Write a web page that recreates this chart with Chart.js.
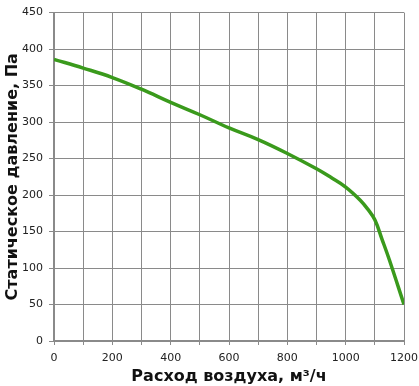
<!DOCTYPE html>
<html>
<head>
<meta charset="utf-8">
<script src="https://cdn.jsdelivr.net/npm/chart.js@4/dist/chart.umd.min.js"></script>
<style>
  body { margin: 0; background: #fff; }
  #wrap { width: 419px; height: 386px; position: relative; }
</style>
</head>
<body>
<div id="wrap"><canvas id="fanChart"></canvas></div>
<script>
// Данные кривой (расход, м3/ч -> давление, Па)
const airflow = [0, 100, 200, 300, 400, 500, 600, 700, 800, 900, 950, 1000, 1050, 1075, 1100, 1125, 1150, 1200];
const pressure = [386, 374, 361, 345, 327, 310, 292, 276, 257, 236, 224, 211, 193, 181, 166, 139, 111, 50];

const xLabel = 'Расход воздуха, м³/ч';
const yLabel = 'Статическое давление, Па';

const gridColor = '#8a8a8a';
const tickFont = { family: 'DejaVu Sans', size: 11 };
const titleFont = { family: 'DejaVu Sans', size: 16, weight: 'bold' };

const points = airflow.map((x, i) => ({ x: x, y: pressure[i] }));

const ctx = document.getElementById('fanChart').getContext('2d');
new Chart(ctx, {
    type: 'line',
    data: {
        datasets: [{
            data: points,
            borderColor: '#3a9a1c',
            borderWidth: 3.5,
            pointRadius: 0,
            fill: false,
            tension: 0.4
        }]
    },
    options: {
        responsive: true,
        maintainAspectRatio: false,
        animation: false,
        layout: { padding: { top: 12, right: 2, left: 3, bottom: 0 } },
        plugins: {
            legend: { display: false },
            tooltip: { enabled: false }
        },
        scales: {
            x: {
                type: 'linear',
                min: 0,
                max: 1200,
                ticks: {
                    stepSize: 100,
                    autoSkip: false,
                    maxRotation: 0,
                    color: '#222',
                    font: tickFont,
                    padding: 7,
                    callback: v => (v % 200 === 0 ? v : '')
                },
                grid: { color: gridColor, tickLength: 4, tickColor: gridColor },
                border: { color: gridColor, width: 2 },
                title: { display: true, text: xLabel, color: '#111', font: titleFont, padding: { top: 0, bottom: 0 } },
                afterFit: s => { s.height = 45; s.paddingRight = 15; s.paddingLeft = 0; }
            },
            y: {
                min: 0,
                max: 450,
                ticks: {
                    stepSize: 50,
                    color: '#222',
                    font: tickFont,
                    padding: 6
                },
                grid: { color: gridColor, tickLength: 5, tickColor: gridColor },
                border: { color: gridColor, width: 2 },
                title: { display: true, text: yLabel, color: '#111', font: titleFont, padding: { top: 0, bottom: 0 } },
                afterFit: s => { s.width = 51; }
            }
        }
    }
});
</script>
</body>
</html>
